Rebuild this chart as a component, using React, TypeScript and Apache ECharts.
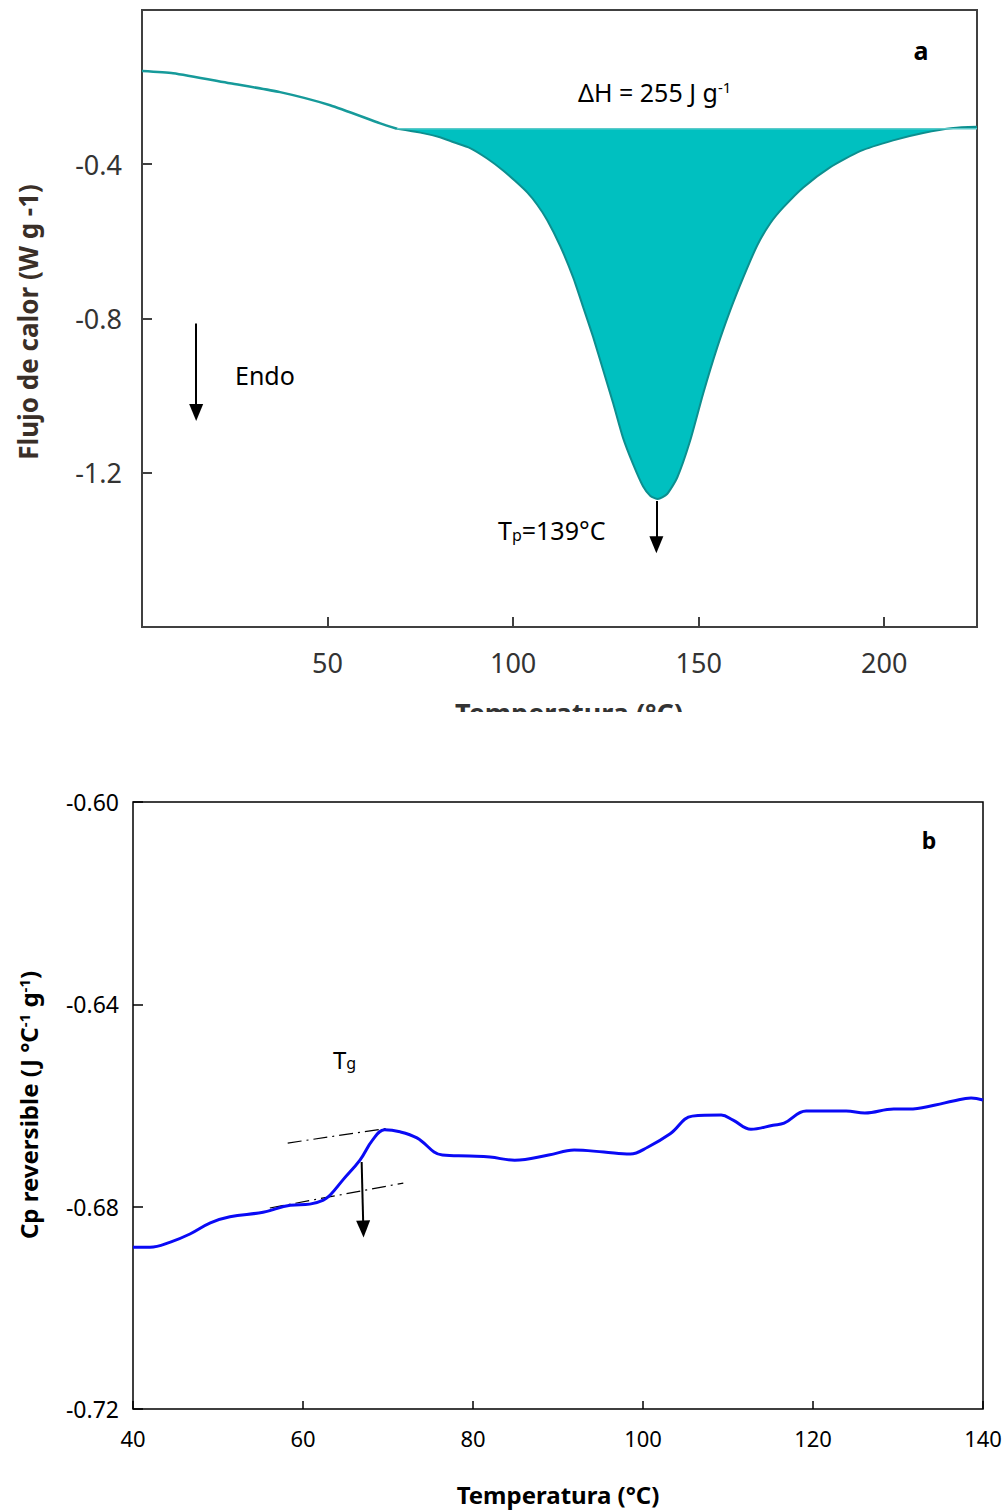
import React, { useEffect, useRef } from "react";
import * as echarts from "echarts";

// ---- Panel a: DSC heat flow ----
const aPreT = [0, 8.4, 23.7, 37.2, 50.7, 64.2, 68.7];
const aPreV = [-0.158, -0.164, -0.19, -0.213, -0.247, -0.294, -0.308];
const aBaseline = -0.308;
const aPeakT = [68.7, 75, 80.3, 84, 88.4, 93, 97.3, 100.5, 103.8, 106.5, 109.2, 112.7, 116.2, 118.9, 121.6, 124.3, 127.0, 129.6, 132.3, 135.0, 137, 139, 141.5, 144.2, 147.7, 151.2, 155.0, 158.5, 162.0, 165.8, 169.3, 172.8, 178.2, 185.4, 193.5, 202.4, 210.5, 218.6, 225];
const aPeakV = [-0.308, -0.318, -0.33, -0.343, -0.358, -0.385, -0.416, -0.443, -0.473, -0.505, -0.545, -0.612, -0.694, -0.771, -0.849, -0.935, -1.021, -1.109, -1.177, -1.235, -1.26, -1.268, -1.255, -1.213, -1.117, -0.995, -0.875, -0.779, -0.694, -0.61, -0.553, -0.512, -0.46, -0.408, -0.366, -0.338, -0.319, -0.306, -0.303];
const aXTicks = [50, 100, 150, 200];
const aYTicks = [-0.4, -0.8, -1.2];

// ---- Panel b: reversible Cp ----
const bT = [40.0, 42.0, 44.4, 46.7, 49.1, 51.4, 55.3, 58.5, 60.8, 62.4, 63.2, 64.7, 66.7, 68.2, 69.6, 71.4, 73.4, 76.4, 79.6, 82.0, 84.9, 88.9, 91.9, 95.4, 98.5, 100.6, 103.2, 105.8, 109.2, 110.6, 112.7, 115.3, 116.6, 119.2, 123.9, 126.1, 129.5, 131.3, 134.4, 136.5, 138.6, 140.0];
const bCp = [-0.688, -0.688, -0.687, -0.6854, -0.6832, -0.682, -0.6811, -0.6797, -0.6795, -0.6787, -0.6777, -0.6747, -0.6708, -0.6668, -0.6648, -0.6652, -0.6664, -0.6698, -0.67, -0.6702, -0.6708, -0.6698, -0.6688, -0.6692, -0.6696, -0.6682, -0.6656, -0.6621, -0.6619, -0.6629, -0.6647, -0.6639, -0.6635, -0.6611, -0.6611, -0.6615, -0.6607, -0.6607, -0.6599, -0.6591, -0.6585, -0.6589];
const bTangentUpper = [[58.2, -0.66742], [70.2, -0.66445]];
const bTangentLower = [[56.1, -0.68027], [71.8, -0.67533]];

const FONT = "'Noto Sans', 'Open Sans', sans-serif";

function zip(xs: number[], ys: number[]) {
  return xs.map((x, i) => [x, ys[i]]);
}

export default function App() {
  const ref = useRef<HTMLDivElement>(null);
  useEffect(() => {
    if (!ref.current) return;
    const chart = echarts.init(ref.current, undefined, { renderer: "svg" });
    const arrow = (from: number[], to: number[]) => ({
      silent: true,
      symbol: ["none", "triangle"],
      symbolSize: [14, 17],
      label: { show: false },
      lineStyle: { color: "#000", width: 2, type: "solid" },
      data: [[{ coord: from }, { coord: to }]],
    });
    const option: any = {
      animation: false,
      backgroundColor: "#ffffff",
      grid: [
        { left: 142, top: 10, width: 835, height: 617, show: true, borderColor: "#404040", borderWidth: 2, backgroundColor: "transparent" },
        { left: 133, top: 802, width: 850, height: 607, show: true, borderColor: "#000", borderWidth: 1.5, backgroundColor: "transparent" },
      ],
      xAxis: [
        {
          type: "value", gridIndex: 0, min: 0, max: 225, interval: 50, position: "bottom",
          axisLine: { show: false, onZero: false },
          axisTick: { show: true, inside: true, length: 10, lineStyle: { color: "#404040", width: 2 } },
          splitLine: { show: false },
          axisLabel: {
            margin: 22, fontSize: 27, fontFamily: FONT, color: "#333",
            formatter: (v: number) => (aXTicks.indexOf(v) >= 0 ? String(v) : ""),
          },
        },
        {
          type: "value", gridIndex: 1, min: 40, max: 140, interval: 20, position: "bottom",
          axisLine: { show: false, onZero: false },
          axisTick: { show: true, inside: true, length: 8, lineStyle: { color: "#000", width: 1.5 } },
          splitLine: { show: false },
          axisLabel: { margin: 18, fontSize: 22, fontFamily: FONT, color: "#000" },
        },
      ],
      yAxis: [
        {
          type: "value", gridIndex: 0, min: -1.6, max: 0, interval: 0.4,
          axisLine: { show: false, onZero: false },
          axisTick: { show: true, inside: true, length: 10, lineStyle: { color: "#404040", width: 2 } },
          splitLine: { show: false },
          axisLabel: {
            margin: 20, fontSize: 27, fontFamily: FONT, color: "#333",
            formatter: (v: number) => (aYTicks.some((t) => Math.abs(t - v) < 1e-6) ? v.toFixed(1) : ""),
          },
        },
        {
          type: "value", gridIndex: 1, min: -0.72, max: -0.6, interval: 0.04,
          axisLine: { show: false, onZero: false },
          axisTick: { show: true, inside: true, length: 10, lineStyle: { color: "#000", width: 1.5 } },
          splitLine: { show: false },
          axisLabel: { margin: 14, fontSize: 23, fontFamily: FONT, color: "#000", formatter: (v: number) => v.toFixed(2) },
        },
      ],
      series: [
        {
          type: "line", xAxisIndex: 0, yAxisIndex: 0, data: zip(aPreT, aPreV),
          symbol: "none", smooth: 0.2, lineStyle: { color: "#169a9a", width: 2.5 },
        },
        {
          type: "line", xAxisIndex: 0, yAxisIndex: 0, data: zip(aPeakT, aPeakV),
          symbol: "none", smooth: 0.2,
          lineStyle: { color: "#0c8f8f", width: 2 },
          areaStyle: { color: "#00c0c0", opacity: 1, origin: aBaseline },
          markLine: arrow([138.6, -1.273], [138.6, -1.387]),
        },
        {
          type: "line", xAxisIndex: 0, yAxisIndex: 0, data: [[aPeakT[0], aBaseline], [225, aBaseline]],
          symbol: "none", lineStyle: { color: "#5ccaca", width: 1.5 },
          markLine: arrow([14.6, -0.813], [14.6, -1.044]),
        },
        {
          type: "line", xAxisIndex: 1, yAxisIndex: 1, data: bTangentUpper,
          symbol: "none", lineStyle: { color: "#000", width: 1.2, type: [14, 5, 2, 5] },
        },
        {
          type: "line", xAxisIndex: 1, yAxisIndex: 1, data: bTangentLower,
          symbol: "none", lineStyle: { color: "#000", width: 1.2, type: [14, 5, 2, 5] },
        },
        {
          type: "line", xAxisIndex: 1, yAxisIndex: 1, data: zip(bT, bCp),
          symbol: "none", smooth: 0.4, z: 3,
          lineStyle: { color: "#0a0af5", width: 3 },
          markLine: arrow([66.9, -0.67118], [67.1, -0.68442]),
        },
      ],
      graphic: [
        // top panel x-axis title, cropped by the picture's edge
        {
          type: "text", x: 569, y: 699, z: 50,
          style: { text: "Temperatura (°C)", fontSize: 27, fontWeight: "bold", fontFamily: FONT, fill: "#333", textAlign: "center", align: "center", textVerticalAlign: "top", verticalAlign: "top" },
        },
        { type: "rect", z: 60, shape: { x: 0, y: 712, width: 1008, height: 70 }, style: { fill: "#ffffff" } },
        {
          type: "text", x: 28, y: 322, rotation: Math.PI / 2, z: 50,
          style: { text: "Flujo de calor (W g -1)", fontSize: 26, fontWeight: "bold", fontFamily: FONT, fill: "#3a2f28", textAlign: "center", align: "center", textVerticalAlign: "middle", verticalAlign: "middle" },
        },
        {
          type: "text", x: 921, y: 50, z: 50,
          style: { text: "a", fontSize: 25, fontWeight: "bold", fontFamily: FONT, fill: "#000", textAlign: "center", align: "center", textVerticalAlign: "middle", verticalAlign: "middle" },
        },
        {
          type: "text", x: 578, y: 92, z: 50,
          style: {
            text: "{n|ΔH = 255 J g}{s|-1}", textAlign: "left", align: "left", textVerticalAlign: "middle", verticalAlign: "middle",
            rich: { n: { fontSize: 25, fontFamily: FONT, fill: "#000", color: "#000" }, s: { fontSize: 15, fontFamily: FONT, verticalAlign: "top", fill: "#000", color: "#000" } },
          },
        },
        {
          type: "text", x: 235, y: 375, z: 50,
          style: { text: "Endo", fontSize: 25, fontFamily: FONT, fill: "#000", textAlign: "left", align: "left", textVerticalAlign: "middle", verticalAlign: "middle" },
        },
        {
          type: "text", x: 498, y: 530, z: 50,
          style: {
            text: "{n|T}{s|p}{n|=139°C}", textAlign: "left", align: "left", textVerticalAlign: "middle", verticalAlign: "middle",
            rich: { n: { fontSize: 25, fontFamily: FONT, fill: "#000", color: "#000" }, s: { fontSize: 16, fontFamily: FONT, verticalAlign: "bottom", fill: "#000", color: "#000" } },
          },
        },
        // bottom panel
        {
          type: "text", x: 558, y: 1494, z: 50,
          style: { text: "Temperatura (°C)", fontSize: 24, fontWeight: "bold", fontFamily: FONT, fill: "#000", textAlign: "center", align: "center", textVerticalAlign: "middle", verticalAlign: "middle" },
        },
        {
          type: "text", x: 28, y: 1105, rotation: Math.PI / 2, z: 50,
          style: {
            text: "{n|Cp reversible (J °C}{s|-1}{n| g}{s|-1}{n|)}", textAlign: "center", align: "center", textVerticalAlign: "middle", verticalAlign: "middle",
            rich: { n: { fontSize: 24, fontWeight: "bold", fontFamily: FONT, fill: "#000", color: "#000" }, s: { fontSize: 15, fontWeight: "bold", fontFamily: FONT, verticalAlign: "top", fill: "#000", color: "#000" } },
          },
        },
        {
          type: "text", x: 929, y: 840, z: 50,
          style: { text: "b", fontSize: 23, fontWeight: "bold", fontFamily: FONT, fill: "#000", textAlign: "center", align: "center", textVerticalAlign: "middle", verticalAlign: "middle" },
        },
        {
          type: "text", x: 333, y: 1059, z: 50,
          style: {
            text: "{n|T}{s|g}", textAlign: "left", align: "left", textVerticalAlign: "middle", verticalAlign: "middle",
            rich: { n: { fontSize: 24, fontFamily: FONT, fill: "#000", color: "#000" }, s: { fontSize: 16, fontFamily: FONT, verticalAlign: "bottom", fill: "#000", color: "#000" } },
          },
        },
      ],
    };
    chart.setOption(option);
    return () => chart.dispose();
  }, []);
  return (
    <div
      ref={ref}
      style={{ position: "absolute", left: 0, top: 0, width: 1008, height: 1510, background: "#fff" }}
    />
  );
}
